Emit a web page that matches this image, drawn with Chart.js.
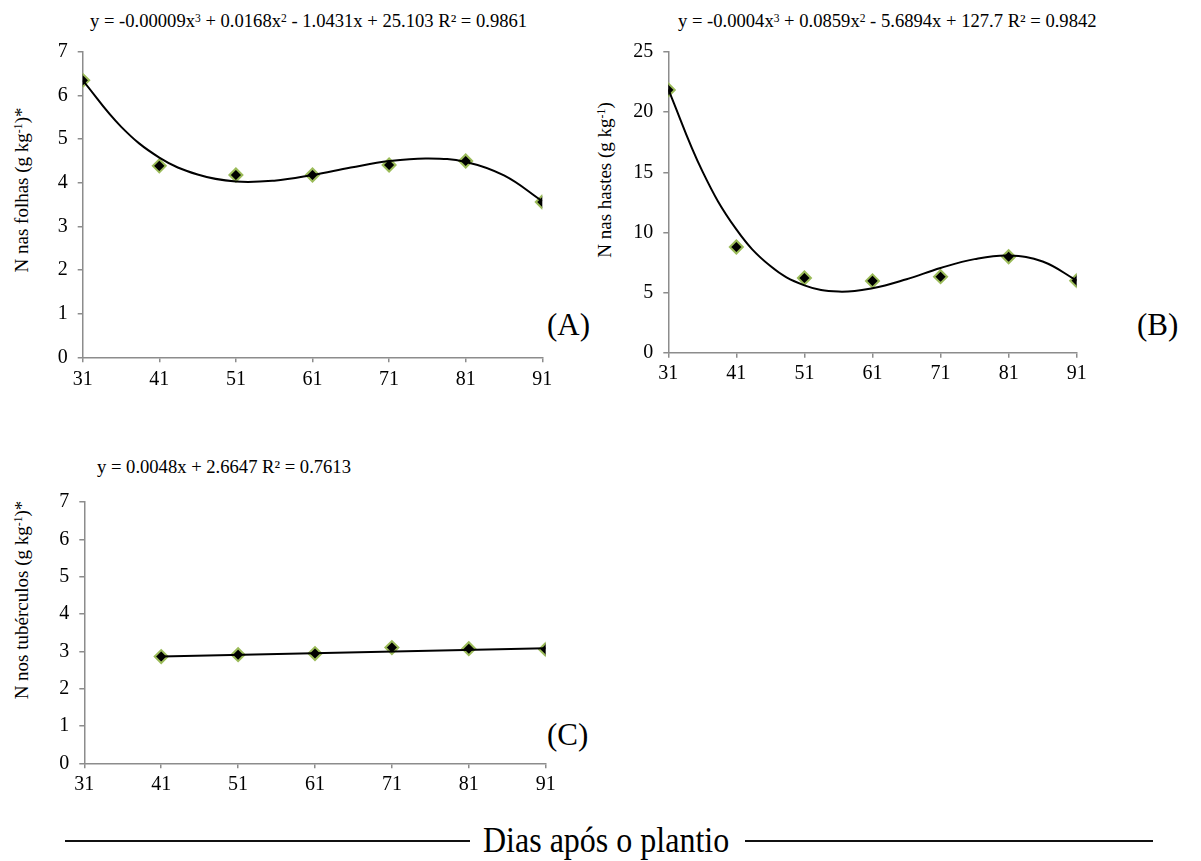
<!DOCTYPE html>
<html>
<head>
<meta charset="utf-8">
<script src="https://cdn.jsdelivr.net/npm/chart.js@4/dist/chart.umd.min.js"></script>
<style>
  body { margin: 0; background: #fff; width: 1201px; height: 861px; position: relative; overflow: hidden;
         font-family: 'Liberation Serif', 'Times New Roman', serif; color: #000; }
  canvas { position: absolute; }
  .eq { position: absolute; font-size: 18.6px; white-space: nowrap; line-height: 1; }
  .eq sup, .ytitle sup { font-size: 0.62em; vertical-align: 0.45em; line-height: 0; }
  .ytitle { position: absolute; font-size: 19px; white-space: nowrap; line-height: 1;
            transform: translate(-50%, -50%) rotate(-90deg); }
  .panel { position: absolute; font-size: 31px; line-height: 1; }
  .rule { position: absolute; height: 2px; background: #111; }
  .xlabel { position: absolute; font-size: 32px; line-height: 1; white-space: nowrap;
            transform: scaleY(1.15); transform-origin: 0 50%; }
</style>
</head>
<body>

<div class="eq" style="left:90px; top:12px;">y = -0.00009x<sup>3</sup> + 0.0168x<sup>2</sup> - 1.0431x + 25.103 R² = 0.9861</div>
<div class="eq" style="left:678px; top:12px;">y = -0.0004x<sup>3</sup> + 0.0859x<sup>2</sup> - 5.6894x + 127.7 R² = 0.9842</div>
<div class="eq" style="left:97px; top:458px;">y = 0.0048x + 2.6647 R² = 0.7613</div>

<div class="ytitle" style="left:21px; top:190px;">N nas folhas (g kg<sup>-1</sup>)*</div>
<div class="ytitle" style="left:604px; top:180px;">N nas hastes (g kg<sup>-1</sup>)</div>
<div class="ytitle" style="left:21px; top:600px;">N nos tubérculos (g kg<sup>-1</sup>)*</div>

<div class="panel" style="left:547px; top:309px;">(A)</div>
<div class="panel" style="left:1137px; top:309px;">(B)</div>
<div class="panel" style="left:547px; top:719px;">(C)</div>

<div class="rule" style="left:65px; top:840px; width:405px;"></div>
<div class="xlabel" style="left:483px; top:823px;">Dias após o plantio</div>
<div class="rule" style="left:745px; top:840px; width:408px;"></div>

<canvas id="chartA" width="530" height="360" style="left:40px; top:30px;"></canvas>
<canvas id="chartB" width="520" height="360" style="left:600px; top:30px;"></canvas>
<canvas id="chartC" width="530" height="320" style="left:40px; top:480px;"></canvas>

<script>
// Sampling days (days after planting)
const days = [31, 41, 51, 61, 71, 81, 91];
const daysTuber = [41, 51, 61, 71, 81, 91];
const xTickLabels = [31, 41, 51, 61, 71, 81, 91];

// Measured N content (g/kg)
const nLeaves = [6.35, 4.39, 4.18, 4.18, 4.41, 4.50, 3.56];
const nStems  = [21.85, 8.79, 6.21, 5.97, 6.32, 7.98, 5.99];
const nTubers = [2.86, 2.91, 2.94, 3.10, 3.07, 3.05];

// Fitted trend curves, sampled every 5 days
const trendDays = [31, 36, 41, 46, 51, 56, 61, 66, 71, 76, 81, 86, 91];
const trendLeaves = [6.35, 5.29, 4.58, 4.19, 4.03, 4.05, 4.18, 4.35, 4.50, 4.56, 4.48, 4.17, 3.58];
const trendStems  = [21.9, 15.1, 10.25, 7.2, 5.6, 5.08, 5.36, 6.1, 7.04, 7.78, 8.08, 7.58, 6.0];
const trendTuberDays = [41, 91];
const trendTubers = [2.86, 3.08];

const yTicksLeaves = [0, 1, 2, 3, 4, 5, 6, 7];
const yTicksStems  = [0, 5, 10, 15, 20, 25];
const yTicksTubers = [0, 1, 2, 3, 4, 5, 6, 7];

Chart.defaults.font.family = "'Liberation Serif', 'Times New Roman', serif";
Chart.defaults.font.size = 20;
Chart.defaults.color = '#000';

const AXIS = '#8c8c8c';
const MARK_BORDER = '#9bbb59';

const pts = (xs, ys) => xs.map((x, i) => ({ x: x, y: ys[i] }));

function makeChart(id, cfg) {
  const ctx = document.getElementById(id);
  return new Chart(ctx, {
    type: 'scatter',
    data: {
      datasets: [
        {
          data: pts(cfg.trendX, cfg.trendY),
          showLine: true,
          borderColor: '#000',
          borderWidth: 2,
          tension: cfg.tension,
          pointRadius: 0,
          fill: false,
          order: 0
        },
        {
          data: pts(cfg.x, cfg.y),
          showLine: false,
          pointStyle: 'rectRot',
          pointRadius: 6.5,
          pointBorderWidth: 2,
          pointBackgroundColor: '#000',
          pointBorderColor: MARK_BORDER,
          order: 1
        }
      ]
    },
    options: {
      responsive: false,
      animation: false,
      devicePixelRatio: 1,
      layout: { padding: { left: 0, top: cfg.padTop, right: cfg.padRight, bottom: 0 } },
      plugins: { legend: { display: false }, tooltip: { enabled: false } },
      scales: {
        x: {
          type: 'linear',
          min: xTickLabels[0],
          max: xTickLabels[xTickLabels.length - 1],
          afterBuildTicks: s => { s.ticks = xTickLabels.map(v => ({ value: v })); },
          afterFit: s => { s.height = cfg.xH; },
          ticks: { padding: cfg.xPad, color: '#000', maxRotation: 0, autoSkip: false },
          grid: { drawOnChartArea: false, drawTicks: true, tickLength: 5, color: AXIS, lineWidth: 1.5 },
          border: { color: AXIS, width: 1.5 }
        },
        y: {
          min: cfg.yTicks[0],
          max: cfg.yTicks[cfg.yTicks.length - 1],
          afterBuildTicks: s => { s.ticks = cfg.yTicks.map(v => ({ value: v })); },
          afterFit: s => { s.width = cfg.yW; },
          ticks: { padding: 10, color: '#000' },
          grid: { drawOnChartArea: false, drawTicks: true, tickLength: 5, color: AXIS, lineWidth: 1.5 },
          border: { color: AXIS, width: 1.5 }
        }
      }
    }
  });
}

makeChart('chartA', {
  x: days, y: nLeaves, trendX: trendDays, trendY: trendLeaves, tension: 0.4,
  yTicks: yTicksLeaves, yW: 42.7, xH: 32.7, padTop: 16.7, padRight: 27.7, xPad: 5
});
makeChart('chartB', {
  x: days, y: nStems, trendX: trendDays, trendY: trendStems, tension: 0.4,
  yTicks: yTicksStems, yW: 68.3, xH: 37.3, padTop: 12.7, padRight: 43.3, xPad: 4
});
makeChart('chartC', {
  x: daysTuber, y: nTubers, trendX: trendTuberDays, trendY: trendTubers, tension: 0,
  yTicks: yTicksTubers, yW: 44.3, xH: 36.7, padTop: 17.7, padRight: 24.3, xPad: 4
});
</script>
</body>
</html>
